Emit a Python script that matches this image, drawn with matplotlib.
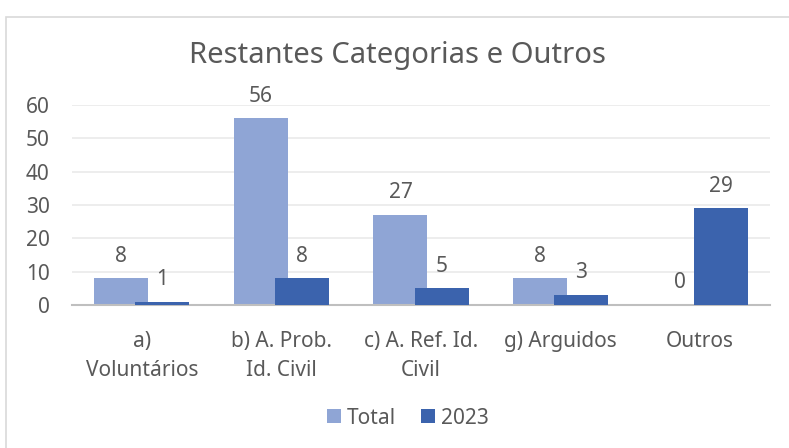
import matplotlib
matplotlib.use("Agg")
import matplotlib.pyplot as plt
from matplotlib.patches import Rectangle
import numpy as np

categories = ["a)\nVoluntários", "b) A. Prob.\nId. Civil", "c) A. Ref. Id.\nCivil",
              "g) Arguidos", "Outros"]
total = [8, 56, 27, 8, 0]
y2023 = [1, 8, 5, 3, 29]

c_total = "#8FA5D5"
c_2023 = "#3B63AD"
txt = "#595959"

plt.rcParams['font.family'] = ['Noto Sans', 'DejaVu Sans']

fig = plt.figure(figsize=(7.89, 4.48), dpi=100)
# chart border
fig.patches.append(Rectangle((6 / 789, -0.1), 1.1, (448 - 17) / 448 + 0.1,
                             transform=fig.transFigure, fill=False,
                             edgecolor="#D9D9D9", linewidth=1.2))

ax = fig.add_axes([72 / 789, 143 / 448, 698 / 789, 200 / 448])

x = np.arange(len(categories))
w = 0.387
off = 0.147
b1 = ax.bar(x - off, total, w, color=c_total, label="Total", zorder=2)
b2 = ax.bar(x + off, y2023, w, color=c_2023, label="2023", zorder=3)

for rects, vals in ((b1, total), (b2, y2023)):
    for r, v in zip(rects, vals):
        ax.annotate(str(v), xy=(r.get_x() + r.get_width() / 2, v),
                    xytext=(0, 12), textcoords="offset points",
                    ha="center", va="baseline", fontsize=15, color=txt)

ax.set_xlim(-0.5, len(categories) - 0.5)
ax.set_ylim(0, 60)
ax.set_yticks(range(0, 61, 10))
ax.yaxis.grid(True, color="#EAEAEA", linewidth=1.2, zorder=0)
ax.set_axisbelow(True)
for s in ("top", "right", "left"):
    ax.spines[s].set_visible(False)
ax.spines["bottom"].set_color("#BFBFBF")
ax.spines["bottom"].set_linewidth(1.5)
ax.tick_params(axis="both", length=0, colors=txt, labelsize=15)
ax.tick_params(axis="y", pad=16)
ax.tick_params(axis="x", pad=19)
ax.set_xticks(x)
ax.set_xticklabels(categories, linespacing=1.45)
for lab in ax.get_yticklabels():
    lab.set_horizontalalignment("right")

fig.text(398 / 789, 1 - 63 / 448, "Restantes Categorias e Outros",
         ha="center", va="baseline", fontsize=21, color=txt)

leg = fig.legend(handles=[b1, b2], labels=["Total", "2023"], loc="center",
                 bbox_to_anchor=(408 / 789, 1 - 418 / 448), ncol=2, frameon=False,
                 fontsize=15, handlelength=0.65, handleheight=0.65,
                 handletextpad=0.3, columnspacing=1.2, labelcolor=txt)

fig.savefig("out.png", dpi=100)
